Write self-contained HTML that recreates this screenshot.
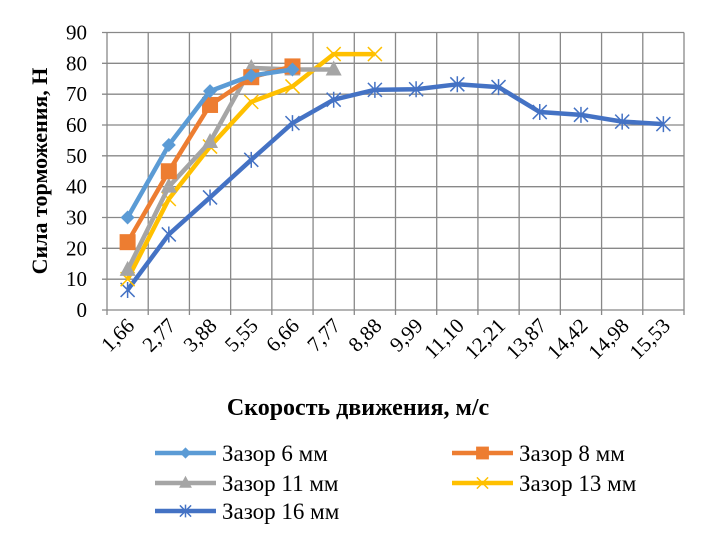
<!DOCTYPE html>
<html><head><meta charset="utf-8"><style>
html,body{margin:0;padding:0;background:#fff;}
svg{display:block;font-family:"Liberation Serif","DejaVu Serif",serif;}
</style></head><body>
<svg id="chart" width="708" height="543" viewBox="0 0 708 543">
<g id="grid"></g>
<g id="axes"></g>
<g id="series"></g>
<text x="0" y="0" transform="translate(47,171) rotate(-90)" text-anchor="middle" font-size="22" font-weight="bold">Сила торможения, Н</text>
<text x="358" y="415" text-anchor="middle" font-size="24" font-weight="bold">Скорость движения, м/с</text>
<g id="legend"></g>
</svg>
<script>
const categories = ["1,66","2,77","3,88","5,55","6,66","7,77","8,88","9,99","11,10","12,21","13,87","14,42","14,98","15,53"];
const yTicks = [0,10,20,30,40,50,60,70,80,90];
const s6 = [30,53.5,71,76,78];
const s8 = [22,45,66.5,75.5,79];
const s11 = [13,40,54.5,78.5,78,78];
const s13 = [10,36,53,67.5,72.5,83,83];
const s16 = [6.5,24.5,36.5,48.7,60.6,68.2,71.4,71.6,73.2,72.3,64.2,63.3,61.1,60.3];
const seriesNames = ["Зазор 6 мм","Зазор 8 мм","Зазор 11 мм","Зазор 13 мм","Зазор 16 мм"];

const NS="http://www.w3.org/2000/svg";
const L=107,R=684,T=32.5,B=310;
const bw=(R-L)/categories.length;
const x=i=>L+bw*(i+0.5);
const y=v=>B-(v/90)*(B-T);
function mk(tag,attrs,parent){const e=document.createElementNS(NS,tag);for(const k in attrs)e.setAttribute(k,attrs[k]);parent.appendChild(e);return e;}
const grid=document.getElementById('grid'),axes=document.getElementById('axes'),ser=document.getElementById('series'),leg=document.getElementById('legend');
yTicks.forEach(v=>{
  const ln=mk('line',{x1:L-5,x2:R,y1:y(v),y2:y(v),stroke:'#888','stroke-width':1.3},grid);
  
  
  const t=mk('text',{x:L-20,y:y(v)+7,'text-anchor':'end','font-size':21},axes);
  t.textContent=v;
  
  
});
for(let i=0;i<=categories.length;i++){
  const xx=L+bw*i;
  const ln=mk('line',{x1:xx,x2:xx,y1:T,y2:B+5,stroke:'#888','stroke-width':1.3},grid);
  
  
}
categories.forEach((c,i)=>{
  const t=mk('text',{x:0,y:0,'text-anchor':'end','font-size':21,transform:`translate(${x(i)+8},${327}) rotate(-45)`},axes);
  t.textContent=c;
  
  
});
function marker(type,cx,cy,color,g,scale){
  const s=scale||1;let m;
  if(type==='diamond'){m=mk('polygon',{points:`${cx},${cy-7*s} ${cx+7*s},${cy} ${cx},${cy+7*s} ${cx-7*s},${cy}`,fill:color},g);}
  else if(type==='square'){m=mk('rect',{x:cx-8*s,y:cy-8*s,width:16*s,height:16*s,fill:color},g);}
  else if(type==='triangle'){m=mk('polygon',{points:`${cx},${cy-9*s} ${cx+8*s},${cy+6*s} ${cx-8*s},${cy+6*s}`,fill:color},g);}
  else if(type==='x'){m=mk('path',{d:`M${cx-7*s},${cy-7*s}L${cx+7*s},${cy+7*s}M${cx+7*s},${cy-7*s}L${cx-7*s},${cy+7*s}`,stroke:color,'stroke-width':1.5,fill:'none'},g);}
  else {m=mk('path',{d:`M${cx-7*s},${cy-7*s}L${cx+7*s},${cy+7*s}M${cx+7*s},${cy-7*s}L${cx-7*s},${cy+7*s}M${cx},${cy-8*s}L${cx},${cy+8*s}`,stroke:color,'stroke-width':1.5,fill:'none'},g);}
  
  
}
const defs=[[s6,'#5b9bd5','diamond'],[s8,'#ed7d31','square'],[s11,'#a5a5a5','triangle'],[s13,'#ffc000','x'],[s16,'#4472c4','star']];
const order=[4,3,2,1,0];
order.forEach(k=>{
  const [d,col,mt]=defs[k];
  const g=mk('g',{},ser);
  
  
  const p=mk('polyline',{points:d.map((v,i)=>x(i)+','+y(v)).join(' '),fill:'none',stroke:col,'stroke-width':4.5,'stroke-linejoin':'round'},g);
  
  
  d.forEach((v,i)=>marker(mt,x(i),y(v),col,g));
});
const lp=[[155,453],[452,453],[155,483],[452,483],[155,511]];
defs.forEach((d,k)=>{
  const [lx,ly]=lp[k];
  const g=mk('g',{},leg);
  
  
  mk('line',{x1:lx,x2:lx+61,y1:ly,y2:ly,stroke:d[1],'stroke-width':4.5},g);
  marker(d[2],lx+30.5,ly,d[1],g,0.8);
  const t=mk('text',{x:lx+67,y:ly+8,'font-size':23},g);
  t.textContent=seriesNames[k];
  
  
});
</script>
</body></html>
